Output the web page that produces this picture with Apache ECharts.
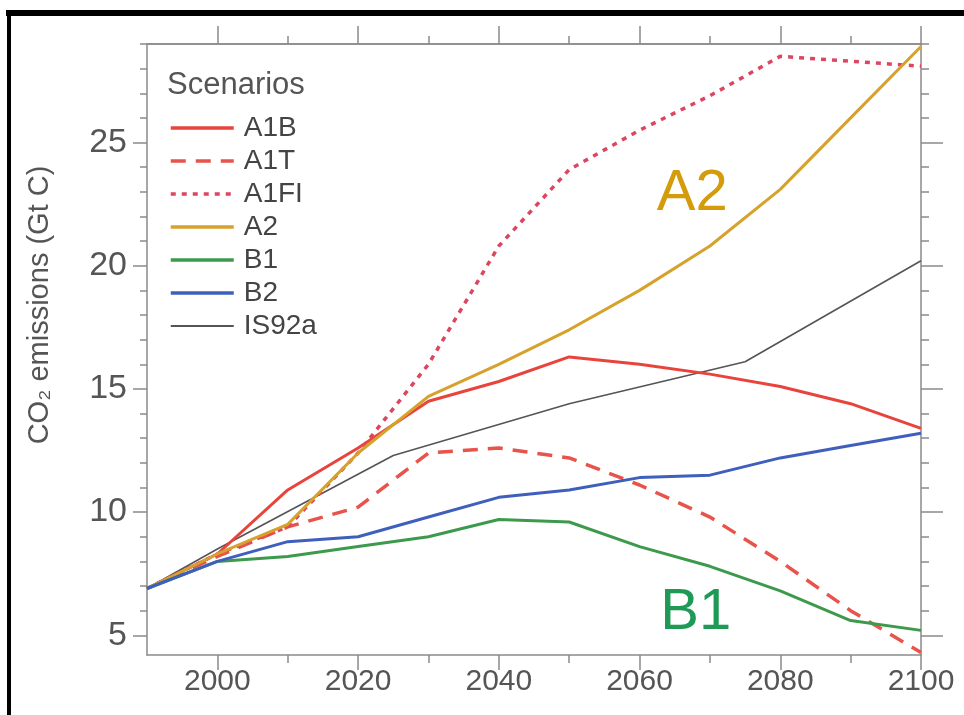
<!DOCTYPE html>
<html>
<head>
<meta charset="utf-8">
<title>CO2 emissions scenarios</title>
<script src="https://cdn.jsdelivr.net/npm/echarts@6/dist/echarts.min.js"></script>
<style>
  html, body { margin: 0; padding: 0; background: #fff; }
  #chart { width: 964px; height: 715px; }
</style>
</head>
<body>
<div id="chart"></div>
<script>
// years for the SRES scenarios
var years = [1990, 2000, 2010, 2020, 2030, 2040, 2050, 2060, 2070, 2080, 2090, 2100];
var a1b  = [6.9, 8.3, 10.9, 12.6, 14.5, 15.3, 16.3, 16.0, 15.6, 15.1, 14.4, 13.4];
var a1t  = [6.9, 8.2, 9.4, 10.2, 12.4, 12.6, 12.2, 11.1, 9.8, 8.0, 6.0, 4.3];
var a1fi = [6.9, 8.3, 9.4, 12.4, 16.0, 20.8, 23.9, 25.5, 26.9, 28.5, 28.3, 28.1];
var a2   = [6.9, 8.3, 9.5, 12.4, 14.7, 16.0, 17.4, 19.0, 20.8, 23.1, 26.0, 28.9];
var b1   = [6.9, 8.0, 8.2, 8.6, 9.0, 9.7, 9.6, 8.6, 7.8, 6.8, 5.6, 5.2];
var b2   = [6.9, 8.0, 8.8, 9.0, 9.8, 10.6, 10.9, 11.4, 11.5, 12.2, 12.7, 13.2];
// IS92a only has a few points
var is92Years = [1990, 2000, 2025, 2050, 2075, 2100];
var is92a     = [6.9, 8.5, 12.3, 14.4, 16.1, 20.2];

// tick positions
var xMajor = [2000, 2020, 2040, 2060, 2080, 2100];
var xMinor = [2010, 2030, 2050, 2070, 2090];
var yMajor = [5, 10, 15, 20, 25];
var yMinor = [5, 6, 7, 8, 9, 10, 11, 12, 13, 14, 15, 16, 17, 18, 19, 20, 21, 22, 23, 24, 25, 26, 27, 28, 29];

var font = "'Liberation Sans', Arial, sans-serif";
var axisColor = '#8a8a8a';

function pairs(xs, ys) {
    var out = [];
    for (var i = 0; i < xs.length; i++) out.push([xs[i], ys[i]]);
    return out;
}

function xAx(pos, ticks, len, labels) {
    return {
        type: 'value', position: pos, min: 1990, max: 2100,
        axisLine: { show: !!labels || pos === 'top', lineStyle: { color: axisColor, width: 1.5 } },
        axisTick: { show: true, customValues: ticks, length: len, lineStyle: { color: axisColor, width: 1.5 } },
        axisLabel: labels ? {
            customValues: ticks, fontSize: 30, color: '#555', fontFamily: font, margin: 12,
            formatter: function (v) { return String(v); }
        } : { show: false },
        splitLine: { show: false }
    };
}

function yAx(pos, ticks, len, labels, line) {
    return {
        type: 'value', position: pos, min: 4.2, max: 29,
        axisLine: { show: !!line, lineStyle: { color: axisColor, width: 1.5 } },
        axisTick: { show: true, customValues: ticks, length: len, lineStyle: { color: axisColor, width: 1.5 } },
        axisLabel: labels ? { customValues: ticks, fontSize: 34, color: '#555', fontFamily: font, margin: 20 } : { show: false },
        splitLine: { show: false }
    };
}

function line(name, xs, ys, color, width, type) {
    return {
        name: name, type: 'line', data: pairs(xs, ys),
        symbol: 'none', showSymbol: false, smooth: false,
        lineStyle: { color: color, width: width, type: type || 'solid', cap: 'butt' },
        itemStyle: { color: color },
        z: name === 'IS92a' ? 1 : 2
    };
}

var chart = echarts.init(document.getElementById('chart'));

var series = [
    line('A1B', years, a1b, '#e8443c', 3),
    line('A1T', years, a1t, '#e8534b', 3.5, [15, 10]),
    line('A1FI', years, a1fi, '#dd4660', 3.5, [5, 6]),
    line('A2', years, a2, '#d6a22c', 3),
    line('B1', years, b1, '#3d9a4d', 3),
    line('B2', years, b2, '#3f5fbd', 3),
    line('IS92a', is92Years, is92a, '#555555', 1.6)
];

// big scenario labels placed in data coordinates
series[3].markPoint = {
    symbol: 'circle', symbolSize: 0, silent: true,
    label: { show: true, formatter: 'A2', fontSize: 58, color: '#d49b0b', fontFamily: font },
    data: [{ coord: [2067.5, 22.9] }]
};
series[4].markPoint = {
    symbol: 'circle', symbolSize: 0, silent: true,
    label: { show: true, formatter: 'B1', fontSize: 58, color: '#1f9a56', fontFamily: font },
    data: [{ coord: [2068, 5.9] }]
};

var option = {
    animation: false,
    backgroundColor: '#fff',
    textStyle: { fontFamily: font },
    grid: { left: 147, right: 43, top: 44, bottom: 60, containLabel: false },
    title: {
        text: 'Scenarios', left: 162, top: 65,
        textStyle: { fontSize: 31, color: '#555', fontWeight: 'normal', fontFamily: font }
    },
    legend: {
        orient: 'vertical', left: 164, top: 109,
        itemWidth: 63, itemHeight: 4, itemGap: 5,
        itemStyle: { opacity: 0 },
        lineStyle: { width: 3.5 },
        textStyle: { fontSize: 28, color: '#444', fontFamily: font, lineHeight: 25, padding: [0, 0, 0, 5] },
        data: ['A1B', 'A1T', 'A1FI', 'A2', 'B1', 'B2', { name: 'IS92a', lineStyle: { width: 2 } }]
    },
    xAxis: [
        xAx('bottom', xMajor, 15, true),
        xAx('bottom', xMinor, 8, false),
        xAx('top', xMajor, 18, false),
        xAx('top', xMinor, 8, false)
    ],
    yAxis: [
        yAx('left', yMajor, 14, true, true),
        yAx('left', yMinor, 7, false, false),
        yAx('right', yMajor, 22, false, true),
        yAx('right', yMinor, 8, false, false)
    ],
    graphic: [
        { type: 'rect', shape: { x: 6, y: 10, width: 958, height: 6 }, style: { fill: '#000' } },
        { type: 'rect', shape: { x: 7, y: 10, width: 4, height: 705 }, style: { fill: '#000' } },
        {
            type: 'text', x: 40, y: 305, rotation: Math.PI / 2,
            style: { text: 'CO₂ emissions (Gt C)', fill: '#555', font: "29px " + font, textAlign: 'center', textVerticalAlign: 'middle' }
        }
    ],
    series: series
};

chart.setOption(option);
</script>
</body>
</html>
